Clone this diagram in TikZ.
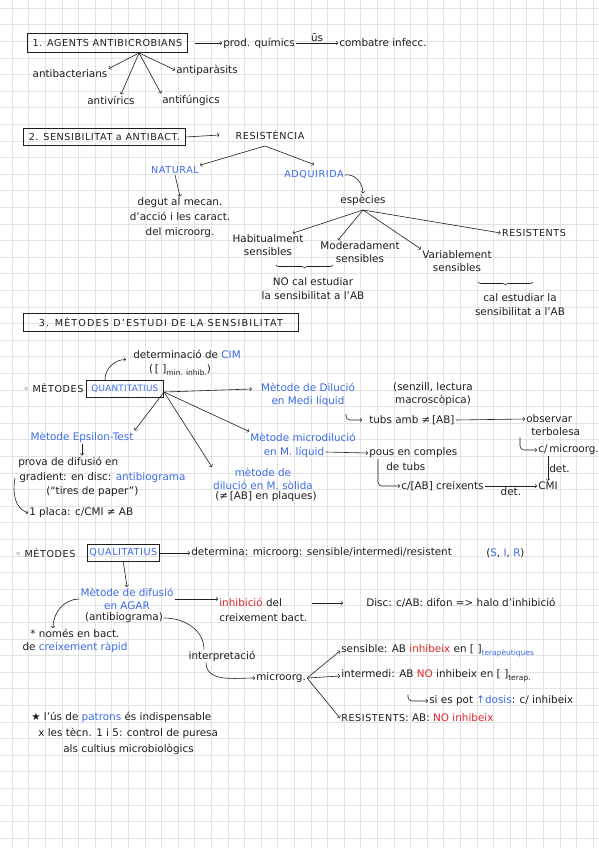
\documentclass[tikz,border=0pt]{standalone}
\usepackage{fontspec}
\setmainfont{DejaVu Sans}
\newfontfamily\symf{DejaVu Sans}
\usetikzlibrary{decorations.pathreplacing}
\definecolor{ink}{HTML}{1E1E1E}
\definecolor{pen}{HTML}{3B6CE6}
\definecolor{redink}{HTML}{E1252B}
\definecolor{gridc}{HTML}{E3E3E3}
\newcommand{\lowtx}[1]{\raisebox{-3pt}{\fontsize{7.5}{8}\selectfont #1}}
\newcommand{\capsf}{\fontsize{9.6}{12}\selectfont\addfontfeatures{LetterSpace=6}}
\tikzset{nb/.style={x=1pt,y=-1pt,line width=.6pt,font=\fontsize{10.4}{13}\selectfont},
  tx/.style={inner sep=1pt,text=ink,align=center},
  cp/.style={font=\capsf},
  bx/.style={draw=ink,line width=.8pt,inner sep=2pt,text=ink,cp},
  ar/.style={->,draw=ink},
  hook/.style={ar,rounded corners=4pt}}

\begin{document}
\begin{tikzpicture}[nb]
  \useasboundingbox (0,0) rectangle (599,848);
  \fill[white] (0,0) rectangle (599,848);
  \foreach \i in {0,...,35} \draw[gridc,line width=.5pt] (12+16.6*\i,0) -- (12+16.6*\i,848);
  \foreach \j in {0,...,50} \draw[gridc,line width=.5pt] (0,8+16.6*\j) -- (599,8+16.6*\j);
  % 1. agents
  \node[bx,anchor=west,minimum width=160pt,minimum height=19pt] (ag) at (27,43) {1. AGENTS ANTIBICROBIANS};
  \node[tx,anchor=west] (pq) at (222,43) {prod. químics};
  \node[tx,anchor=west] (ci) at (338,43) {combatre infecc.};
  \draw[ar] ([xshift=7pt]ag.east) -- (pq.west);
  \draw[ar] (pq.east) -- node[above,tx] (us) {ūs} (ci.west);
  \coordinate (f1) at (139,53);
  \node[tx] (ab) at (70,74) {antibacterians};
  \node[tx] (ap) at (207,70) {antiparàsits};
  \node[tx] (av) at (111,100) {antivírics};
  \node[tx] (af) at (191,100) {antifúngics};
  \foreach \t in {ab.north east,ap.west,af.north west} \draw[ar] (f1) -- (\t);
  \draw[ar] (f1) -- ([xshift=10pt]av.north);
  % 2. sensibilitat
  \node[bx,anchor=west,minimum width=162pt,minimum height=17pt] (sb) at (23,137) {2. SENSIBILITAT a ANTIBACT.};
  \node[tx,cp] (re) at (270,135) {RESISTÈNCIA};
  \draw[ar] (sb.east) -- ([xshift=-15pt]re.west);
  \node[tx,cp,text=pen] (na) at (175,170) {NATURAL};
  \node[tx,cp,text=pen] (aq) at (314,175) {ADQUIRIDA};
  \coordinate (f2) at (265,146);
  \draw[ar] (f2) -- (na.north east);
  \draw[ar] (f2) -- ([yshift=5pt]aq.north);
  \node[tx,font=\fontsize{10.4}{15}\selectfont] (dg) at (180,218) {degut al mecan.\\d'acció i les caract.\\del microorg.};
  \draw[ar] (na.south) -- (dg.north);
  \node[tx] (es) at (363,200) {espècies};
  \draw[ar] (aq.east) to[out=10,in=90] (es.north);
  \node[tx] (hb) at (268,245) {Habitualment\\sensibles};
  \node[tx] (md) at (360,252) {Moderadament\\sensibles};
  \node[tx] (vb) at (457,261) {Variablement\\sensibles};
  \node[tx,cp] (rs) at (534,233) {RESISTENTS};
  \coordinate (f3) at (363,210);
  \draw[ar] (f3) -- ([xshift=-12pt]hb.north east);
  \draw[ar] (f3) -- ([xshift=-22pt]md.north);
  \draw[ar] (f3) -- (vb.north west);
  \draw[ar] (f3) -- (rs.west);
  \draw[ink,decorate,decoration={brace,amplitude=3pt}] (333,265) -- (276,265);
  \node[tx,font=\fontsize{10.4}{14}\selectfont] (nc) at (313,289) {NO cal estudiar\\la sensibilitat a l'AB};
  \draw[ink,decorate,decoration={brace,amplitude=3pt}] (533,282) -- (478,282);
  \node[tx,font=\fontsize{10.4}{14}\selectfont] (ce) at (520,305) {cal estudiar la\\sensibilitat a l'AB};
  % 3. metodes quantitatius
  \node[bx,anchor=west,minimum width=275pt,minimum height=18pt,font=\capsf\addfontfeatures{LetterSpace=12}] (me) at (23,322) {3. MÈTODES D'ESTUDI DE LA SENSIBILITAT};
  \node[tx,anchor=west] (dm) at (132,354) {determinació de \textcolor{pen}{CIM}};
  \node[tx] (cm) at (180,370) {(\,[\,\,]\lowtx{min. inhib.})};
  \node[tx,cp,anchor=west] (m1) at (22,388) {{\symf◦} MÈTODES};
  \node[bx,anchor=west,minimum width=77pt,minimum height=17pt,font=\fontsize{8.8}{11}\selectfont\addfontfeatures{LetterSpace=3},text=pen] (qn) at (86,389) {QUANTITATIUS};
  \draw[ar] ([xshift=-20pt]qn.north) to[out=90,in=180] ([xshift=-6pt]dm.south west);
  \node[tx,text=pen] (dl) at (308,395) {Mètode de Dilució\\en Medi líquid};
  \node[tx] (sz) at (433,394) {(senzill, lectura\\macroscòpica)};
  \node[tx,anchor=west] (tb) at (368,420) {tubs amb {\symf≠}\,[AB]};
  \node[tx,anchor=west] (ob) at (525,419) {observar};
  \node[tx,anchor=west] (tr) at (530,432) {terbolesa};
  \node[tx,anchor=west] (mi) at (537,450) {c/\,microorg.};
  \node[tx,anchor=west] (cx) at (537,486) {CMI};
  \node[tx,text=pen] (mc1) at (303,437) {Mètode microdilució};
  \node[tx,text=pen] (mc2) at (294,452) {en M. líquid};
  \node[tx,anchor=west] (pu) at (368,453) {pous en comples};
  \node[tx,anchor=west] (dt) at (385,467) {de tubs};
  \node[tx,anchor=west] (cr) at (400,486) {c/[AB] creixents};
  \node[tx,text=pen] (so) at (263,479) {mètode de\\dilució en M. sòlida};
  \node[tx] (pl) at (266,497) {({\symf≠}\,[AB] en plaques)};
  \node[tx,text=pen] (ep) at (82,437) {Mètode Epsilon-Test};
  \node[tx,anchor=west] (pv1) at (17,462) {prova de difusió en};
  \node[tx,anchor=west] (pv2) at (18,478) {gradient: en disc: \textcolor{pen}{antibiograma}};
  \node[tx,anchor=west] (pv3) at (45,492) {(``tires de paper'')};
  \node[tx,anchor=west] (pc) at (28,513) {1 placa: c/CMI {\symf≠} AB};
  \coordinate (f4) at (164,392);
  \draw[ar] (f4) -- ([shift={(-8pt,6pt)}]dl.west);
  \draw[ar] (f4) -- (mc1.north west);
  \draw[ar] (f4) -- (so.north west);
  \draw[ar] (f4) -- (ep.north east);
  \draw[hook,shorten >=6pt] ([xshift=-22pt]tb.north west) |- (tb.west);
  \draw[ar] (tb.east) -- (ob.west);
  \draw[hook] ([xshift=-10pt]tr.south west) |- (mi.west);
  \draw[ar] (mi.south -| cx) -- node[right,tx] (d1) {det.} (cx.north);
  \draw[ar] (mc2.east) -- (pu.west);
  \draw[hook] ([xshift=10pt]pu.south west) |- (cr.west);
  \draw[ar] (cr.east) -- node[below,tx] (d2) {det.} (cx.west);
  \draw[ar] (ep.south) -- (ep.south |- pv1.north);
  \draw[ar] ([xshift=-3pt]pv2.west) to[out=-100,in=160] (pc.west);
  % metodes qualitatius
  \node[tx,cp,anchor=west] (m2) at (14,553) {{\symf◦} MÈTODES};
  \node[bx,anchor=west,minimum width=71pt,minimum height=17pt,text=pen] (ql) at (87,553) {QUALITATIUS};
  \node[tx,anchor=west] (dtm) at (190,553) {determina: microorg: sensible/intermedi/resistent};
  \node[tx,anchor=west] (sir) at (485,553) {(\textcolor{pen}{S}, \textcolor{pen}{I}, \textcolor{pen}{R})};
  \draw[ar] (ql.east) -- (dtm.west);
  \node[tx,text=pen] (df) at (127,599) {Mètode de difusió\\en AGAR};
  \node[tx] (an) at (124,618) {(antibiograma)};
  \draw[ar] (ql.south) -- (df.north);
  \node[tx,align=left,anchor=west,font=\fontsize{10.4}{15}\selectfont] (ih) at (218,610) {\textcolor{redink}{inhibició} del\\creixement bact.};
  \draw[ar] (df.east) -- (df.east -| ih.west);
  \node[tx,anchor=west] (dc) at (365,603) {Disc: c/AB: difon => halo d'inhibició};
  \draw[ar,shorten >=22pt] ([xshift=4pt]ih.east |- dc.west) -- (dc.west);
  \node[tx] (nm) at (75,641) {* només en bact.\\de \textcolor{pen}{creixement ràpid}};
  \draw[ar] (df.west) to[out=180,in=90] ([xshift=-22pt]nm.north);
  \node[tx] (ip) at (222,656) {interpretació};
  \draw[ink] (an.east) to[out=0,in=90] ([xshift=-18pt]ip.north);
  \node[tx,anchor=west] (mo) at (255,678) {microorg.};
  \draw[ar] ([xshift=-16pt]ip.south) to[out=-90,in=180] (mo.west);
  \node[tx,anchor=west] (sn) at (340,651) {sensible: AB \textcolor{redink}{inhibeix} en [\,\,]\lowtx{\textcolor{pen}{terapèutiques}}};
  \node[tx,anchor=west] (it) at (340,676) {intermedi: AB \textcolor{redink}{NO} inhibeix en [\,\,]\lowtx{terap.}};
  \node[tx,anchor=west] (ds) at (428,701) {si es pot \textcolor{pen}{{\symf↑}dosis}: c/ inhibeix};
  \node[tx,anchor=west] (rt) at (340,718) {{\capsf RESISTENTS}: AB: \textcolor{redink}{NO inhibeix}};
  \foreach \t in {sn,it,rt} \draw[ar] (mo.east) -- (\t.west);
  \draw[hook] ([xshift=-20pt]ds.north west) |- (ds.west);
  % nota final
  \node[tx,anchor=west] (st) at (30,717) {{\symf★} l'ús de \textcolor{pen}{patrons} és indispensable};
  \node[tx,anchor=west] (st2) at (37,733) {x les tècn. 1 i 5: control de puresa};
  \node[tx,anchor=west] (st3) at (62,749) {als cultius microbiològics};
\end{tikzpicture}
\end{document}
